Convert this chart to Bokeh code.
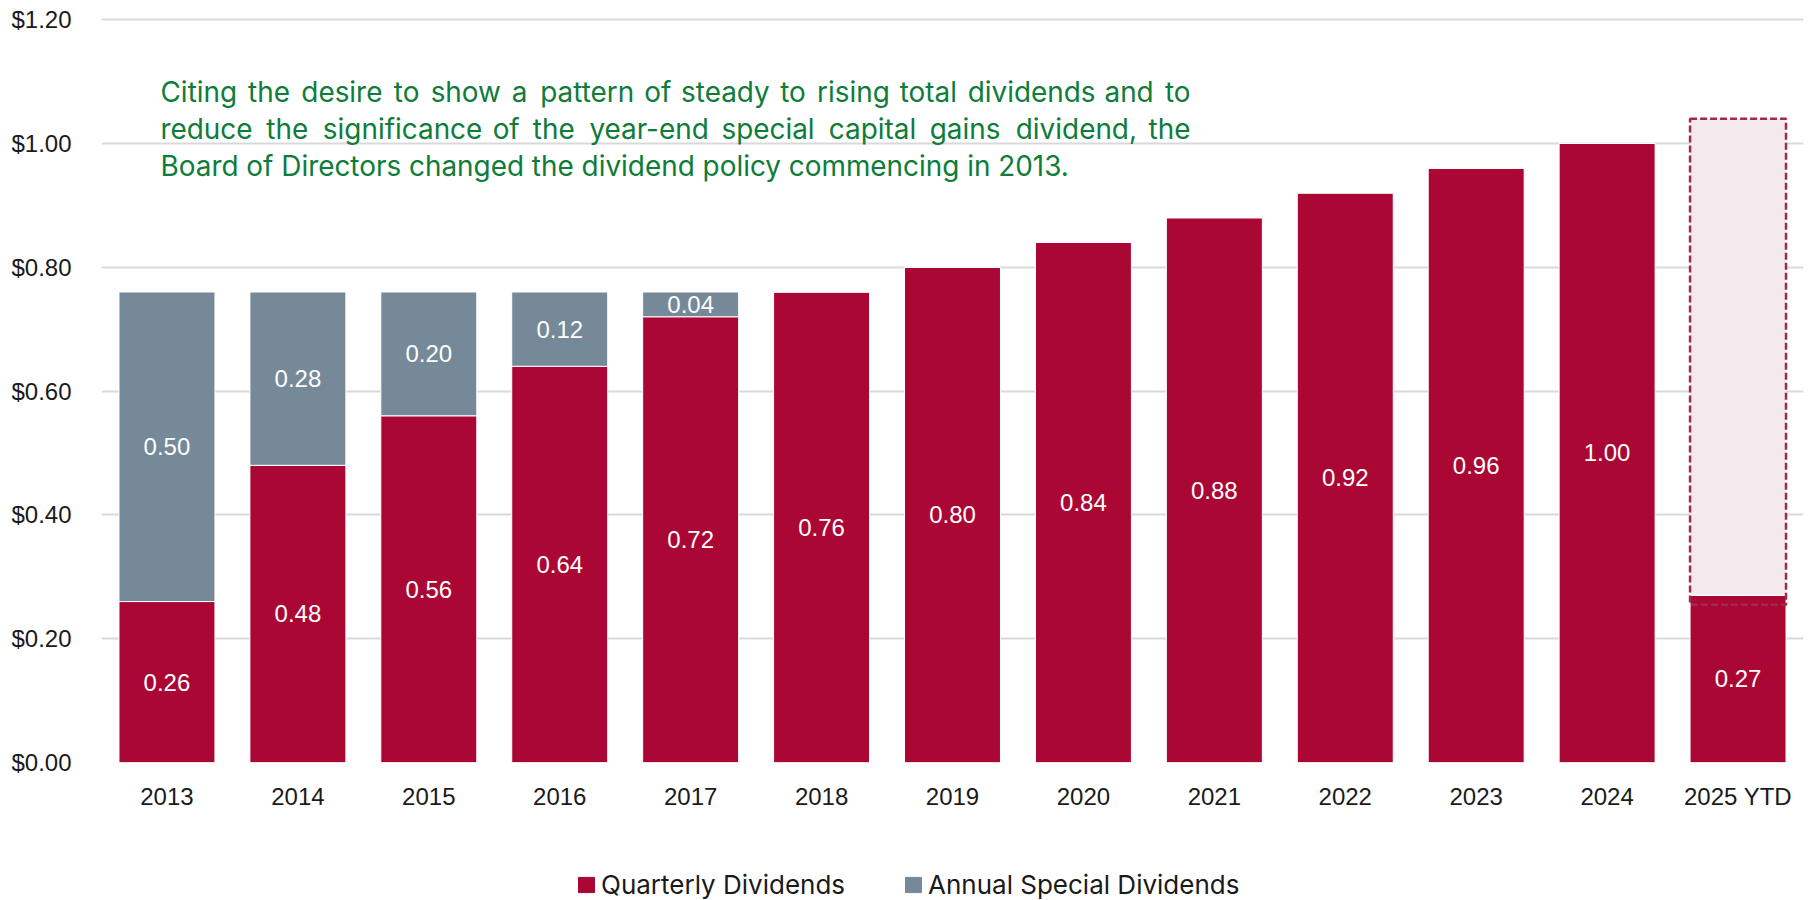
from bokeh.plotting import figure
from bokeh.layouts import column
from bokeh.models import (ColumnDataSource, Range1d, FactorRange, FixedTicker,
                          NumeralTickFormatter, Legend, LegendItem, Label)
from bokeh.core.properties import value
from bokeh.embed import file_html
from bokeh.resources import INLINE

# ---------------- data ----------------
years = ["2013", "2014", "2015", "2016", "2017", "2018", "2019", "2020",
         "2021", "2022", "2023", "2024", "2025 YTD"]
quarterly = [0.26, 0.48, 0.56, 0.64, 0.72, 0.76, 0.80, 0.84, 0.88, 0.92, 0.96, 1.00, 0.27]
special = [0.50, 0.28, 0.20, 0.12, 0.04, 0, 0, 0, 0, 0, 0, 0, 0]
series_names = ["Quarterly Dividends", "Annual Special Dividends"]
projected_year = "2025 YTD"
projected_low = 0.255
projected_total = 1.04
y_ticks = [0.0, 0.2, 0.4, 0.6, 0.8, 1.0, 1.2]
note_lines = [
    "Citing the desire to show a pattern of steady to rising total dividends and to",
    "reduce the significance of the year-end special capital gains dividend, the",
    "Board of Directors changed the dividend policy commencing in 2013.",
]

RED = "#AB0735"
GRAY = "#758998"
GREEN = "#0E7C3A"
TICK_FONT = "Liberation Sans"

src = ColumnDataSource(dict(years=years, quarterly=quarterly, special=special))

p = figure(x_range=FactorRange(*years, range_padding=0), y_range=Range1d(0, 1.205),
           width=1816, height=812, output_backend="svg", toolbar_location=None,
           min_border_left=101, min_border_right=13, min_border_top=16, min_border_bottom=50)
p.outline_line_color = None
p.background_fill_color = "white"

# projected box background
p.vbar(x=[projected_year], bottom=[projected_low], top=[projected_total], width=0.733,
       fill_color="#F4E9EC", line_color=None)

rs = p.vbar_stack(["quarterly", "special"], x="years", width=0.733, source=src,
                  color=[RED, GRAY], line_color="white", line_width=1)

# dashed outline on top
p.vbar(x=[projected_year], bottom=[projected_low], top=[projected_total], width=0.733,
       fill_alpha=0, line_color="#9E2A4E", line_width=2.5, line_dash="7 3")

# value labels
lab_x, lab_y, lab_t = [], [], []
for yr, q, s in zip(years, quarterly, special):
    lab_x.append(yr); lab_y.append(q / 2); lab_t.append(f"{q:.2f}")
    if s > 0:
        lab_x.append(yr); lab_y.append(q + s / 2); lab_t.append(f"{s:.2f}")
p.text(x=lab_x, y=lab_y, text=lab_t, text_color="white", text_font=value(TICK_FONT),
       text_font_size="24px", text_align="center", text_baseline="middle")

# axes
p.yaxis.ticker = FixedTicker(ticks=y_ticks)
p.yaxis.formatter = NumeralTickFormatter(format="$0.00")
for ax in (p.xaxis[0], p.yaxis[0]):
    ax.axis_line_color = None
    ax.major_tick_line_color = None
    ax.minor_tick_line_color = None
    ax.major_label_text_font = TICK_FONT
    ax.major_label_text_font_size = "24px"
    ax.major_label_text_color = "#1a1a1a"
p.yaxis.major_label_standoff = 24
p.xaxis.major_label_standoff = 14
p.xgrid.grid_line_color = None
p.ygrid.grid_line_color = "#D9D9D9"
p.ygrid.grid_line_width = 2

# justified annotation (word placement from approximate Arial metrics)
W = {' ': 278, ',': 278, '.': 278, '-': 333, 'B': 667, 'C': 722, 'D': 722}
for ch in "abdeghnopqu0123456789":
    W[ch] = 556
for ch in "cksvxyz":
    W[ch] = 500
W.update({'f': 278, 't': 278, 'i': 222, 'j': 222, 'l': 222, 'r': 333, 'm': 833, 'w': 722})

FS = 27.9
K = 1.058


def width(s):
    return sum(W.get(c, 556) for c in s) / 1000 * FS * K


def note(x, y, t, align="left"):
    p.add_layout(Label(x=x, y=y, x_units="screen", y_units="screen", text=t,
                       text_align=align, text_baseline="alphabetic",
                       text_font="Inter", text_font_size=f"{FS}px", text_color=GREEN))


x0, x1 = 59, 1089
base_y = [671, 634, 597]
for i, line in enumerate(note_lines):
    words = line.split(" ")
    if i < len(note_lines) - 1:
        tot = sum(width(w) for w in words)
        gap = (x1 - x0 - tot) / (len(words) - 1)
        x = x0
        for j, w in enumerate(words):
            if j == len(words) - 1:
                note(x1, base_y[i], w, "right")
            else:
                note(x, base_y[i], w)
            x += width(w) + gap
    else:
        note(x0, base_y[i], line)

# legend strip below the chart (its frame is aligned with the chart's frame, left = 101)
lg = figure(width=1816, height=88, output_backend="svg", toolbar_location=None,
            x_range=Range1d(0, 1), y_range=Range1d(0, 1), min_border=0)
lg.axis.visible = False
lg.grid.visible = False
lg.outline_line_color = None
d1 = lg.vbar(x=[0.5], top=[0], width=0, color=RED)
d2 = lg.vbar(x=[0.5], top=[0], width=0, color=GRAY)
for name, rend, lx in ((series_names[0], d1, 475), (series_names[1], d2, 802)):
    lg.add_layout(Legend(items=[LegendItem(label=name, renderers=[rend])],
                         orientation="horizontal", location=(lx, 0),
                         glyph_width=20, glyph_height=19, label_standoff=5,
                         padding=0, margin=0, border_line_color=None, background_fill_alpha=0,
                         label_text_font="Inter", label_text_font_size="26px",
                         label_text_color="#1a1a1a"), "center")

layout = column(p, lg, spacing=0)
open("out.html", "w").write(file_html(layout, INLINE))
